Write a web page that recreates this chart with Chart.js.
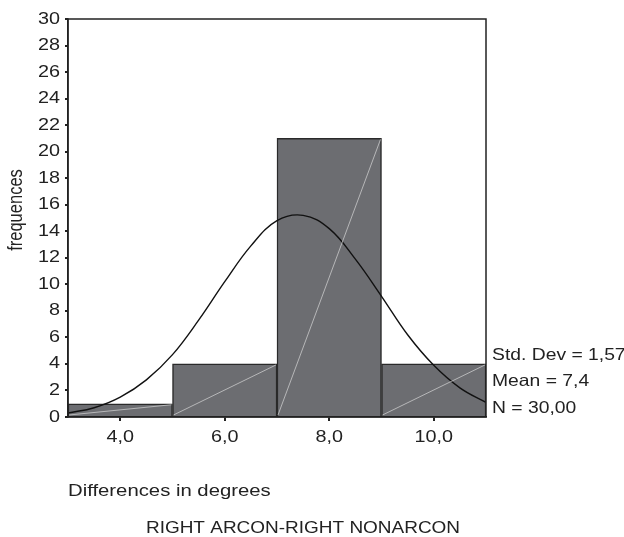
<!DOCTYPE html>
<html>
<head>
<meta charset="utf-8">
<script src="https://cdn.jsdelivr.net/npm/chart.js@4"></script>
<style>
  body { margin: 0; background: #fff; }
</style>
</head>
<body>
<canvas id="histo" width="624" height="537"></canvas>
<script>
// histogram bins (centre of each 2-degree bin) and counts
const binCentres = [4, 6, 8, 10];
const counts = [1, 4, 21, 4];
// normal curve
const curveX = [3, 3.5, 4, 4.5, 5, 5.5, 6, 6.5, 7, 7.5, 8, 8.5, 9, 9.5, 10, 10.5, 11];
const curveY = [0.3, 0.7, 1.5, 2.8, 4.7, 7.3, 10.2, 12.9, 14.8, 15.2, 14.2, 11.9, 9.1, 6.2, 3.9, 2.2, 1.1];
const xTicks = [4, 6, 8, 10];
const statLines = ['Std. Dev = 1,57', 'Mean = 7,4', 'N = 30,00'];

const font = '"Liberation Sans", Arial, sans-serif';
const ink = '#222';

// text in the original is a little wider than it is tall
function wideText(c, txt, x, y, align, sx) {
  c.save();
  c.translate(x, y);
  c.scale(sx || 1.2, 1);
  c.textAlign = align;
  c.fillText(txt, 0, 0);
  c.restore();
}

const extras = {
  id: 'extras',
  afterDatasetsDraw(chart) {
    const c = chart.ctx;
    // light diagonal in every bar
    c.save();
    c.strokeStyle = 'rgba(225,225,225,0.8)';
    c.lineWidth = 0.8;
    chart.getDatasetMeta(1).data.forEach(b => {
      c.beginPath();
      c.moveTo(b.x - b.width / 2 + 1, b.base - 1);
      c.lineTo(b.x + b.width / 2 - 1, b.y + 1);
      c.stroke();
    });
    c.restore();
  },
  afterDraw(chart) {
    const c = chart.ctx;
    const a = chart.chartArea;
    const xs = chart.scales.x, ys = chart.scales.y;
    c.save();
    // frame
    c.strokeStyle = ink;
    c.lineWidth = 1.5;
    c.strokeRect(a.left, a.top, a.right - a.left, a.bottom - a.top);
    c.fillStyle = ink;
    c.font = '16.5px ' + font;
    c.textBaseline = 'middle';
    // tick labels
    ys.ticks.forEach(t => wideText(c, String(t.value), 60, ys.getPixelForValue(t.value), 'right'));
    xTicks.forEach(v => wideText(c, v.toFixed(1).replace('.', ','), xs.getPixelForValue(v), 437, 'center'));
    statLines.forEach((t, i) => wideText(c, t, 492, 355 + i * 26.5, 'left', 1.17));
    wideText(c, 'Differences in degrees', 68, 491, 'left', 1.23);
    wideText(c, 'RIGHT ARCON-RIGHT NONARCON', 303, 528, 'center', 1.15);
    c.translate(17, 210);
    c.rotate(-Math.PI / 2);
    c.scale(1, 1.2);
    c.textAlign = 'center';
    c.fillText('frequences', 0, 0);
    c.restore();
  }
};

new Chart(document.getElementById('histo'), {
  data: {
    datasets: [
      {
        type: 'line',
        data: curveX.map((x, i) => ({ x: x, y: curveY[i] })),
        borderColor: '#111',
        borderWidth: 1.4,
        pointRadius: 0,
        tension: 0.4,
        fill: false,
        order: 0
      },
      {
        type: 'bar',
        data: binCentres.map((x, i) => ({ x: x, y: counts[i] })),
        backgroundColor: '#6c6d71',
        borderColor: '#2a2a2a',
        borderWidth: 1.5,
        barPercentage: 1,
        categoryPercentage: 1,
        order: 1
      }
    ]
  },
  options: {
    responsive: false,
    animation: false,
    layout: { padding: { top: 19, right: 138, left: 0, bottom: 0 } },
    plugins: { legend: { display: false }, tooltip: { enabled: false } },
    scales: {
      x: {
        type: 'linear',
        min: 3,
        max: 11,
        offset: false,
        afterBuildTicks: s => { s.ticks = xTicks.map(v => ({ value: v })); },
        afterFit: s => { s.height = 120; },
        ticks: { display: false },
        grid: { drawOnChartArea: false, offset: false, tickLength: 4, color: ink, lineWidth: 2 },
        border: { color: ink, width: 1.5 }
      },
      y: {
        min: 0,
        max: 30,
        afterFit: s => { s.width = 68; },
        ticks: { stepSize: 2, display: false },
        grid: { drawOnChartArea: false, tickLength: 3, color: ink, lineWidth: 2 },
        border: { color: ink, width: 1.5 }
      }
    }
  },
  plugins: [extras]
});
</script>
</body>
</html>
